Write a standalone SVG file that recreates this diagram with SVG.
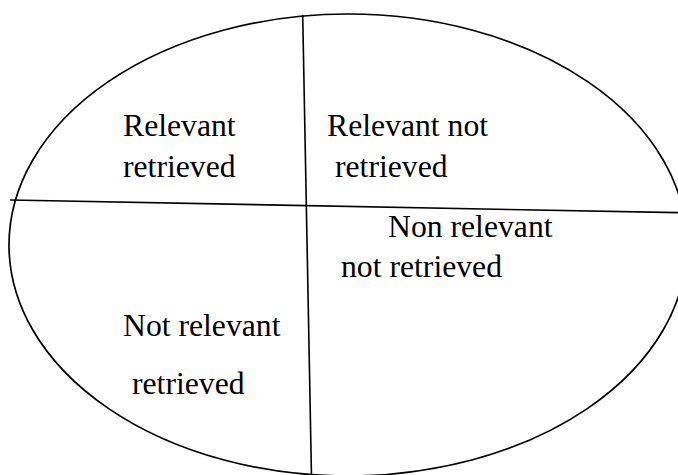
<svg xmlns="http://www.w3.org/2000/svg" width="678" height="475" viewBox="0 0 678 475">
  <style>
    .outline { fill: none; stroke: #000; stroke-width: 1.7; }
    .divider { fill: none; stroke: #000; stroke-width: 1.6; }
    .label { font-family: "Liberation Serif", "Times New Roman", serif; font-size: 31.7px; fill: #000; }
  </style>
  <rect width="678" height="475" fill="#fff"/>
  <!-- outer ellipse: the whole document collection -->
  <g id="collection">
    <ellipse class="outline" cx="348" cy="245" rx="339" ry="231"/>
  </g>
  <!-- dividing lines between the four quadrants -->
  <g id="dividers">
    <line class="divider" x1="302.7" y1="15" x2="311.5" y2="477"/>
    <line class="divider" x1="10" y1="200" x2="680" y2="212.7"/>
  </g>
  <g id="relevant-retrieved">
    <text class="label" x="123" y="136">Relevant</text>
    <text class="label" x="123" y="177">retrieved</text>
  </g>
  <g id="relevant-not-retrieved">
    <text class="label" x="327" y="136">Relevant not</text>
    <text class="label" x="335" y="177">retrieved</text>
  </g>
  <g id="non-relevant-not-retrieved">
    <text class="label" x="388" y="236.7">Non relevant</text>
    <text class="label" x="341" y="276.7">not retrieved</text>
  </g>
  <g id="not-relevant-retrieved">
    <text class="label" x="123" y="336">Not relevant</text>
    <text class="label" x="132" y="394.3">retrieved</text>
  </g>
</svg>
